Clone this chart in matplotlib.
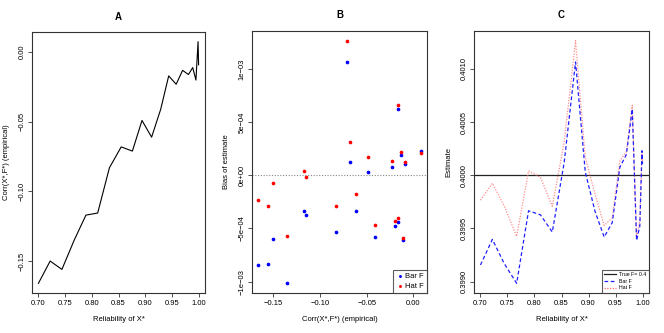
import matplotlib
matplotlib.use("Agg")
import matplotlib.pyplot as plt
from matplotlib.lines import Line2D

plt.rcParams['font.family'] = ['Liberation Sans', 'DejaVu Sans']

# Data
reliability = [0.700, 0.722, 0.744, 0.767, 0.789, 0.811, 0.833, 0.855, 0.876, 0.894,
               0.912, 0.929, 0.944, 0.958, 0.970, 0.981, 0.989, 0.995, 0.999, 1.000]
corr_emp = [-0.166, -0.150, -0.156, -0.135, -0.117, -0.1155, -0.083, -0.068, -0.071, -0.049,
            -0.061, -0.041, -0.017, -0.023, -0.013, -0.016, -0.011, -0.020, 0.0076, -0.009]
bias_bar = [-8.44e-4, -6.03e-4, -8.31e-4, -1.016e-3, -3.34e-4, -3.72e-4, -5.34e-4, 1.22e-4, 1.066e-3, 3.1e-5,
            -3.38e-4, -5.81e-4, -4.44e-4, 7.5e-5, 1.94e-4, 6.22e-4, -6.12e-4, -4.78e-4, 2.31e-4, 1.06e-4]
bias_hat = [-2.34e-4, -7.5e-5, -2.88e-4, -5.75e-4, 4.1e-5, -1.9e-5, -2.91e-4, 3.12e-4, 1.266e-3, 1.69e-4,
            -1.75e-4, -4.72e-4, -4.0e-4, 1.34e-4, 2.22e-4, 6.59e-4, -5.88e-4, -4.28e-4, 2.09e-4, 1.25e-4]
true_f = 0.4

W, H = 664, 333
fig = plt.figure(figsize=(W / 100, H / 100), dpi=100)

def px_axes(l, t, r, b):
    return fig.add_axes([l / W, 1 - b / H, (r - l) / W, (b - t) / H])

FS = 5.5
def style(ax):
    for s in ax.spines.values():
        s.set_color('#333333')
        s.set_linewidth(0.8)
    ax.tick_params(length=2.8, width=0.6, labelsize=FS, color='#333333', pad=2)
    for lab in ax.get_yticklabels():
        lab.set_rotation(90)
        lab.set_va('center')

def pad(lo, hi, f=0.04):
    d = (hi - lo) * f
    return lo - d, hi + d

# Panel A
axA = px_axes(32, 32, 205, 293)
axA.plot(reliability, corr_emp, color='black', lw=0.8)
axA.set_xlim(*pad(min(reliability), max(reliability)))
axA.set_ylim(*pad(min(corr_emp), max(corr_emp)))
axA.set_xticks([0.70, 0.75, 0.80, 0.85, 0.90, 0.95, 1.00])
axA.set_xticklabels(['0.70', '0.75', '0.80', '0.85', '0.90', '0.95', '1.00'])
axA.set_yticks([-0.15, -0.10, -0.05, 0.00])
axA.set_yticklabels(['\u22120.15', '\u22120.10', '\u22120.05', '0.00'])
axA.set_title('A', fontsize=7, fontweight='bold', pad=9)
axA.set_xlabel('Reliability of X*', fontsize=FS, labelpad=7)
axA.set_ylabel('Corr(X*,F*) (empirical)', fontsize=FS, labelpad=6)
style(axA)

# Panel B
axB = px_axes(252, 31, 427, 293)
axB.axhline(0, color='#888888', ls=(0, (1, 1.5)), lw=0.8)
axB.scatter(corr_emp, bias_bar, s=7, color='#0000ff', lw=0, label='Bar F', zorder=3)
axB.scatter(corr_emp, bias_hat, s=7, color='#ff0000', lw=0, label='Hat F', zorder=3)
axB.set_xlim(*pad(min(corr_emp), max(corr_emp)))
allb = bias_bar + bias_hat
axB.set_ylim(*pad(min(allb), max(allb)))
axB.set_xticks([-0.15, -0.10, -0.05, 0.00])
axB.set_xticklabels(['\u22120.15', '\u22120.10', '\u22120.05', '0.00'])
axB.set_yticks([-1e-3, -5e-4, 0, 5e-4, 1e-3])
axB.set_yticklabels(['\u22121e\u221203', '\u22125e\u221204', '0e+00', '5e\u221204', '1e\u221203'])
axB.set_title('B', fontsize=7, fontweight='bold', pad=9)
axB.set_xlabel('Corr(X*,F*) (empirical)', fontsize=FS, labelpad=7)
axB.set_ylabel('Bias of estimate', fontsize=FS, labelpad=6)
legB = axB.legend(loc='lower right', fontsize=FS, frameon=True, fancybox=False,
                  handletextpad=0.2, borderpad=0.4, labelspacing=0.3,
                  handlelength=1.0, borderaxespad=0, markerscale=0.8)
legB.get_frame().set_edgecolor('#333333')
legB.get_frame().set_linewidth(0.8)
style(axB)

# Panel C
est_bar = [true_f + b for b in bias_bar]
est_hat = [true_f + b for b in bias_hat]
axC = px_axes(474, 31, 649, 293)
axC.axhline(true_f, color='#222222', lw=0.9)
axC.plot(reliability, est_hat, color='#ff7070', ls=(0, (1, 1.2)), lw=0.9, alpha=0.8)
axC.plot(reliability, est_bar, color='#2020ff', ls=(0, (3, 2)), lw=0.9)
axC.set_xlim(*pad(min(reliability), max(reliability)))
alle = est_bar + est_hat
axC.set_ylim(*pad(min(alle), max(alle)))
axC.set_xticks([0.70, 0.75, 0.80, 0.85, 0.90, 0.95, 1.00])
axC.set_xticklabels(['0.70', '0.75', '0.80', '0.85', '0.90', '0.95', '1.00'])
axC.set_yticks([0.3990, 0.3995, 0.4000, 0.4005, 0.4010])
axC.set_yticklabels(['0.3990', '0.3995', '0.4000', '0.4005', '0.4010'])
axC.set_title('C', fontsize=7, fontweight='bold', pad=9)
axC.set_xlabel('Reliability of X*', fontsize=FS, labelpad=7)
axC.set_ylabel('Estimate', fontsize=FS, labelpad=6)
handles = [Line2D([], [], color='#222222', lw=0.9),
           Line2D([], [], color='#2020ff', ls=(0, (3, 2)), lw=0.9),
           Line2D([], [], color='#ff7070', ls=(0, (1, 1.2)), lw=0.9)]
legC = axC.legend(handles, ['True F= 0.4', 'Bar F', 'Hat F'], loc='lower right',
                  fontsize=3.8, frameon=True, fancybox=False, handlelength=2.2,
                  handletextpad=0.6, borderpad=0.5, labelspacing=0.3, borderaxespad=0)
legC.get_frame().set_edgecolor('#333333')
legC.get_frame().set_linewidth(0.8)
style(axC)

fig.savefig('out.png', dpi=100)
